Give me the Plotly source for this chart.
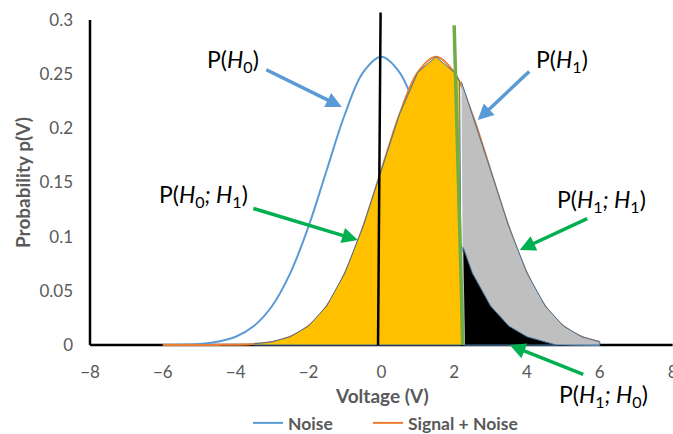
import plotly.graph_objects as go

# ---- data ----
volts = [-6, -5.5, -5, -4.5, -4, -3.5, -3, -2.5, -2, -1.5, -1, -0.5, 0,
         0.5, 1, 1.5, 2, 2.5, 3, 3.5, 4, 4.5, 5, 5.5, 6]
noise = [0.0001, 0.0003, 0.001, 0.003, 0.0076, 0.0175, 0.036, 0.0664, 0.1093,
         0.1613, 0.213, 0.2516, 0.266, 0.2516, 0.213, 0.1613, 0.1093, 0.0664,
         0.036, 0.0175, 0.0076, 0.003, 0.001, 0.0003, 0.0001]
signal_noise = [0.0, 0.0, 0.0, 0.0001, 0.0003, 0.001, 0.0029, 0.0076, 0.0175,
                0.036, 0.0664, 0.1093, 0.1613, 0.213, 0.2516, 0.266, 0.2516,
                0.213, 0.1613, 0.1093, 0.0664, 0.036, 0.0175, 0.0076, 0.0029]

# region limits
yellow_start = -3.5
thresh_top = (2.15, 0.243)     # where the decision line meets the S+N curve
thresh_bottom = 2.2
noise_at_thresh = (2.25, 0.09)
black_end = 4.8
decision_line_x = [2.0, 2.24]
decision_line_y = [0.295, 0.0]
zero_line_x = [-0.02, -0.09]
zero_line_y = [0.307, 0.0]

xticks = [-8, -6, -4, -2, 0, 2, 4, 6, 8]
yticks = [0, 0.05, 0.1, 0.15, 0.2, 0.25, 0.3]
ytick_text = ["0", "0.05", "0.1", "0.15", "0.2", "0.25", "0.3"]

BLUE = "#5B9BD5"
ORANGE = "#ED7D31"
GREEN = "#00B050"
OUTLINE = "#41719C"
GREY_TXT = "#595959"
FONT = "Lato"

fig = go.Figure()

# axis lines drawn as traces (so the curves can sit on top)
fig.add_trace(go.Scatter(x=[-8, 8], y=[0, 0], mode="lines",
                         line=dict(color="black", width=2.5),
                         showlegend=False, hoverinfo="skip"))
fig.add_trace(go.Scatter(x=[-8, -8], y=[0, 0.3], mode="lines",
                         line=dict(color="black", width=2.5),
                         showlegend=False, hoverinfo="skip"))

fig.add_trace(go.Scatter(x=volts, y=noise, mode="lines", name="Noise",
                         legend="legend",
                         line=dict(color=BLUE, width=2, shape="spline")))
fig.add_trace(go.Scatter(x=volts, y=signal_noise, mode="lines", name="Signal + Noise",
                         legend="legend2",
                         line=dict(color=ORANGE, width=2, shape="spline")))

# yellow region  P(H0;H1)
yx, yy = [], []
for v, s in zip(volts, signal_noise):
    if yellow_start <= v <= 2.0:
        yx.append(v); yy.append(s)
yx += [thresh_top[0], thresh_bottom, yellow_start]
yy += [thresh_top[1], 0.0, 0.0]
fig.add_trace(go.Scatter(x=yx, y=yy, mode="lines", fill="toself",
                         fillcolor="#FFC000", line=dict(color=OUTLINE, width=1),
                         showlegend=False, hoverinfo="skip"))

# grey region  P(H1;H1)
gx, gy = [thresh_top[0] + 0.05], [thresh_top[1]]
for v, s in zip(volts, signal_noise):
    if v >= 2.5:
        gx.append(v); gy.append(s)
gx += [volts[-1], noise_at_thresh[0]]
gy += [0.0, 0.0]
fig.add_trace(go.Scatter(x=gx, y=gy, mode="lines", fill="toself",
                         fillcolor="#BFBFBF", line=dict(color=OUTLINE, width=1),
                         showlegend=False, hoverinfo="skip"))

# black region  P(H1;H0)
bx, by = [noise_at_thresh[0]], [noise_at_thresh[1]]
for v, n in zip(volts, noise):
    if 2.5 <= v <= 4.5:
        bx.append(v); by.append(n)
bx += [black_end, noise_at_thresh[0] + 0.05]
by += [0.0, 0.0]
fig.add_trace(go.Scatter(x=bx, y=by, mode="lines", fill="toself",
                         fillcolor="black", line=dict(color=OUTLINE, width=1),
                         showlegend=False, hoverinfo="skip"))

# vertical lines
fig.add_trace(go.Scatter(x=zero_line_x, y=zero_line_y, mode="lines",
                         line=dict(color="black", width=2.5),
                         showlegend=False, hoverinfo="skip"))
fig.add_trace(go.Scatter(x=decision_line_x, y=decision_line_y, mode="lines",
                         line=dict(color="#70AD47", width=3.5),
                         showlegend=False, hoverinfo="skip"))

# ---- layout geometry ----
L, R, T, B = 88, 0, 12, 87
W, H = 673, 434
PW, PH = W - L - R, H - T - B


def px(xp):
    return (xp - L) / PW


def py(yp):
    return (H - B - yp) / PH


annotations = []
# label texts
labels = [
    ("P(<i>H</i><sub>0</sub>)", 233, 60),
    ("P(<i>H</i><sub>1</sub>)", 562, 60),
    ("P(<i>H</i><sub>0</sub><i>; H</i><sub>1</sub>)", 203, 195),
    ("P(<i>H</i><sub>1</sub><i>; H</i><sub>1</sub>)", 601, 201),
    ("P(<i>H</i><sub>1</sub><i>; H</i><sub>0</sub>)", 603, 395),
]
for txt, xp, yp in labels:
    annotations.append(dict(text=txt, x=px(xp), y=py(yp), xref="paper", yref="paper",
                            showarrow=False, xanchor="center", yanchor="middle",
                            font=dict(family=FONT, size=23, color="black")))

# arrows: head in data coords, tail offset in pixels
arrows = [
    (-1.085, 0.2197, -77, -38, BLUE),
    (2.648, 0.2077, 53, -50, BLUE),
    (-0.645, 0.0969, -106, -32, GREEN),
    (3.80, 0.0877, 69, -32, GREEN),
    (3.526, 0.0, 75, 30, GREEN),
]
for hx, hy, ox, oy, col in arrows:
    annotations.append(dict(text=" ", x=hx, y=hy, xref="x", yref="y", ax=ox, ay=oy,
                            showarrow=True, arrowhead=2, arrowsize=0.9,
                            arrowwidth=3.5, arrowcolor=col,
                            font=dict(size=1)))

# axis titles
annotations.append(dict(text="<b>Voltage (V)</b>", x=px(382), y=py(395),
                        xref="paper", yref="paper", showarrow=False,
                        xanchor="center", yanchor="middle",
                        font=dict(family=FONT, size=19, color=GREY_TXT)))
annotations.append(dict(text="<b>Probability p(V)</b>", x=px(22), y=py(183),
                        xref="paper", yref="paper", showarrow=False, textangle=-90,
                        xanchor="center", yanchor="middle",
                        font=dict(family=FONT, size=19, color=GREY_TXT)))

legend_common = dict(orientation="h", yanchor="middle", xanchor="left",
                     font=dict(family=FONT, size=17.5, color=GREY_TXT, weight="bold"),
                     itemwidth=30, bgcolor="rgba(0,0,0,0)", borderwidth=0)

fig.update_layout(
    width=W, height=H,
    margin=dict(l=L, r=R, t=T, b=B, pad=0, autoexpand=False),
    paper_bgcolor="white", plot_bgcolor="white",
    font=dict(family=FONT, color=GREY_TXT, size=17),
    xaxis=dict(range=[-8 - 2 / 36.44, 8.01], tickvals=xticks, showgrid=False,
               zeroline=False, showline=False, ticks="", ticklabelstandoff=13,
               ticklabeloverflow="allow",
               tickfont=dict(family=FONT, size=17, color=GREY_TXT), fixedrange=True),
    yaxis=dict(range=[-0.001846, 0.30738], tickvals=yticks, ticktext=ytick_text,
               showgrid=False, zeroline=False, showline=False, ticks="",
               ticklabelstandoff=14, ticklabeloverflow="allow",
               tickfont=dict(family=FONT, size=17, color=GREY_TXT), fixedrange=True),
    legend=dict(x=px(248), y=py(423), **legend_common),
    legend2=dict(x=px(368), y=py(423), **legend_common),
    annotations=annotations,
    showlegend=True,
)

fig.write_html("out.html")
